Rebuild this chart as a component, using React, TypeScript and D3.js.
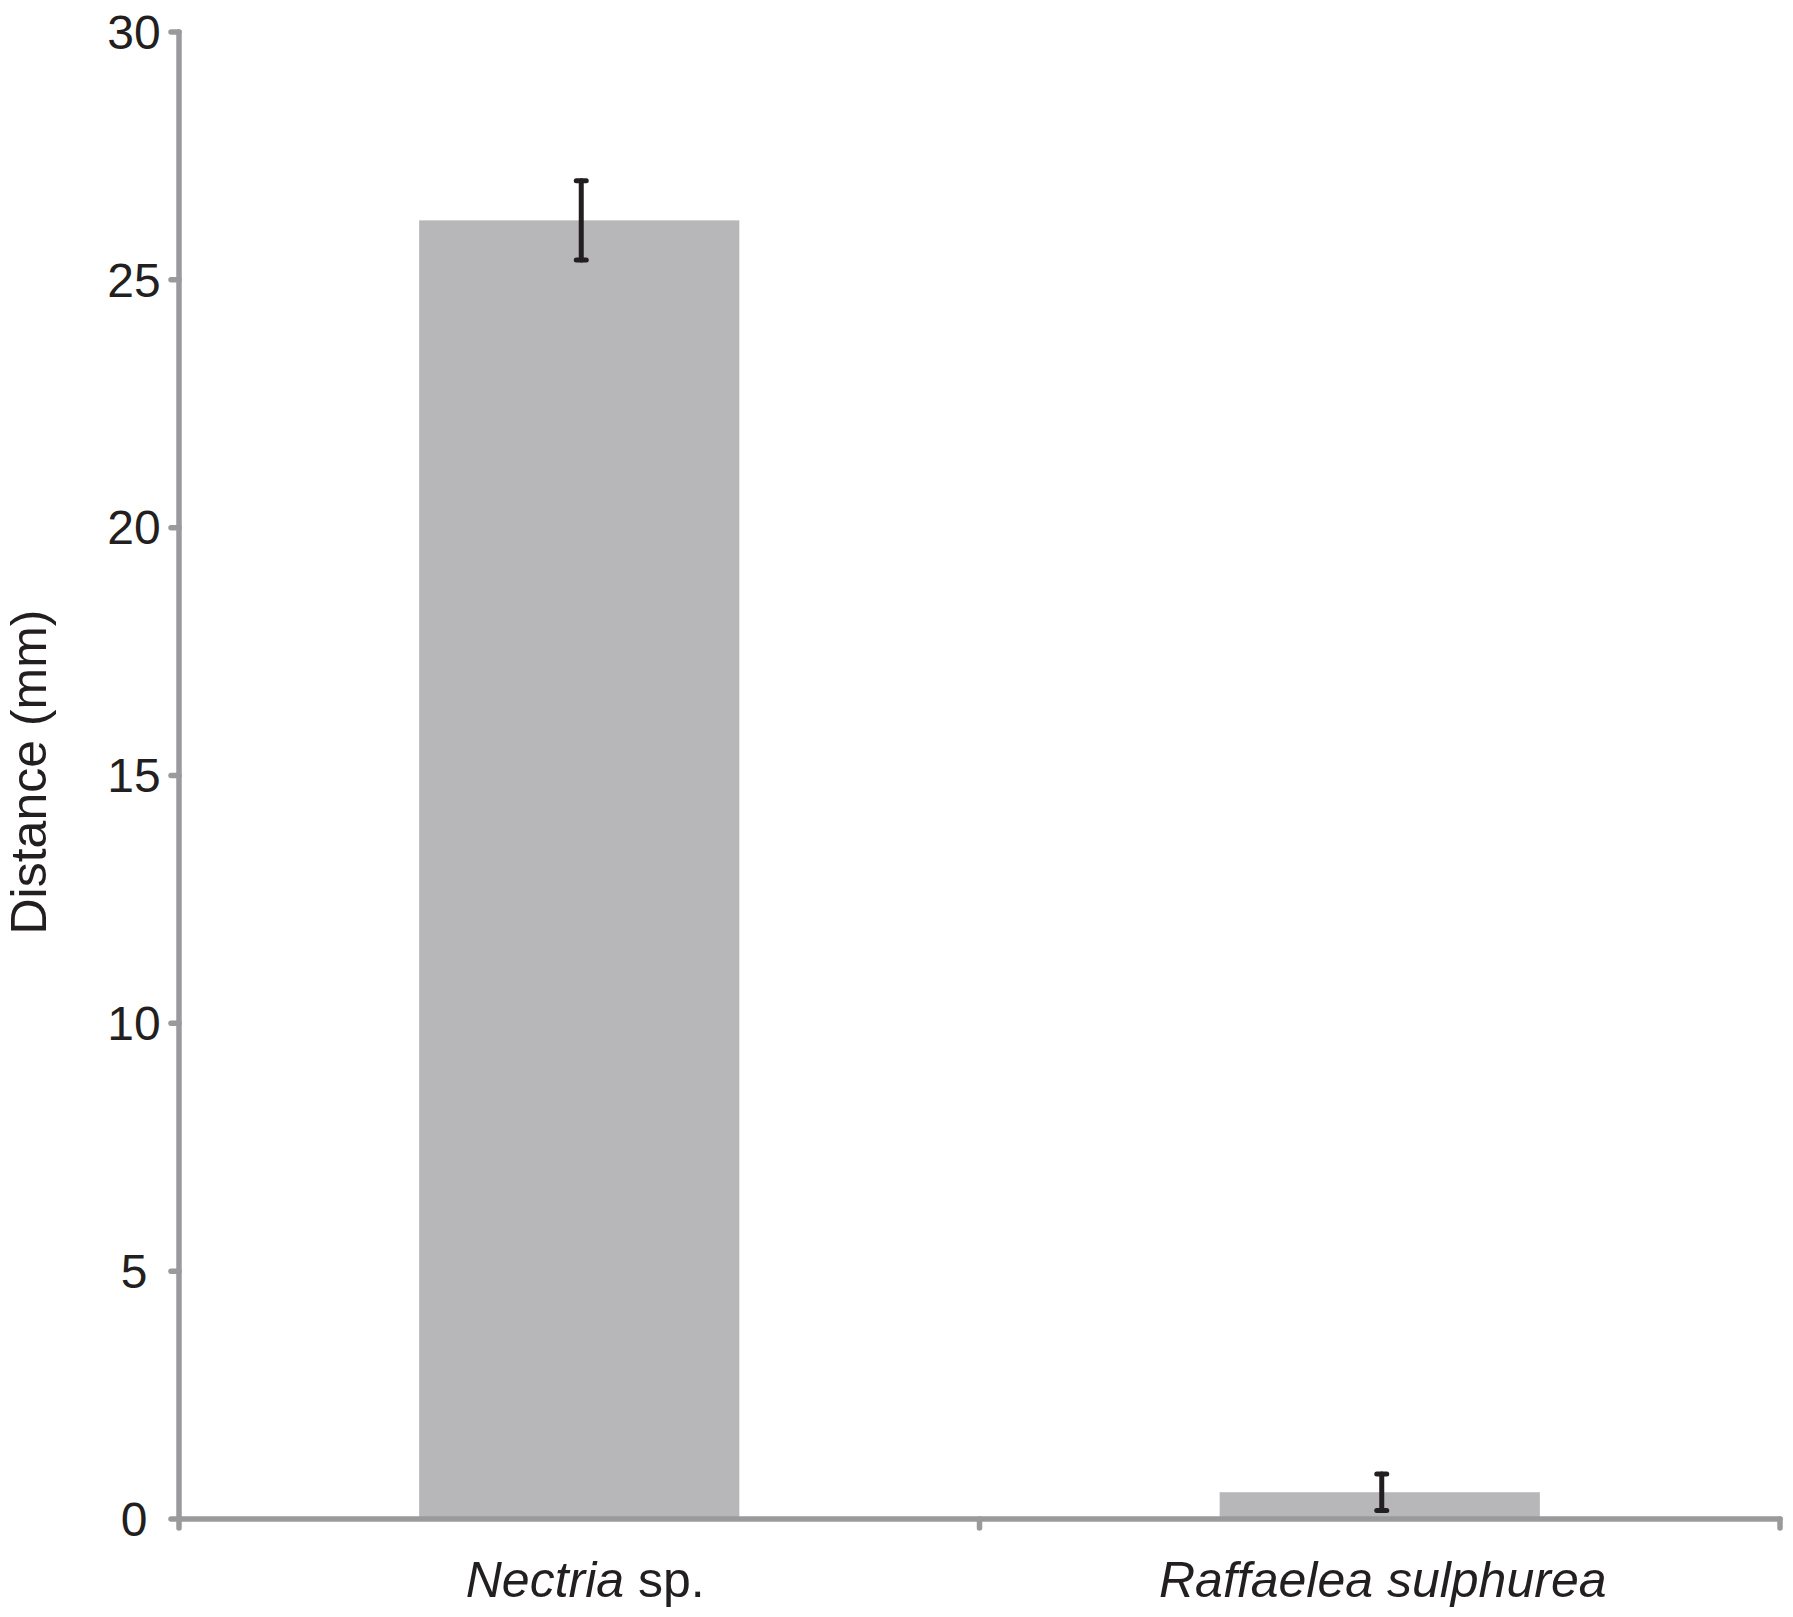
import React, { useEffect, useRef } from 'react';
import * as d3 from 'd3';

// chart data
const categories = ['Nectria', 'Raffaelea sulphurea'];
const meanDistance = [26.2, 0.54];
const errDistance = [0.8, 0.37];
const yTicks = [0, 5, 10, 15, 20, 25, 30];

const W = 1793;
const H = 1617;

const App = () => {
  const svgRef = useRef<SVGSVGElement>(null);

  useEffect(() => {
    const svg = d3.select(svgRef.current);
    svg.selectAll('*').remove();

    const left = 179;
    const right = 1780;
    const top = 32;
    const bottom = 1519;
    const axisColor = '#9a9a9c';
    const textColor = '#231f20';
    const font = '"Liberation Sans", Arial, Helvetica, sans-serif';

    const xScale = d3.scaleBand<string>()
      .domain(categories)
      .range([left, right])
      .padding(0);

    const yScale = d3.scaleLinear()
      .domain([0, 30])
      .range([bottom, top]);

    const barW = xScale.bandwidth() * 0.4;
    const data = categories.map((c, i) => ({ c, v: meanDistance[i], e: errDistance[i] }));

    // bars
    svg.append('g')
      .selectAll('rect')
      .data(data)
      .enter()
      .append('rect')
      .attr('x', d => xScale(d.c)! + xScale.bandwidth() / 2 - barW / 2)
      .attr('y', d => yScale(d.v))
      .attr('width', barW)
      .attr('height', d => bottom - yScale(d.v))
      .attr('fill', '#b7b7ba');

    // axes
    const axes = svg.append('g')
      .attr('stroke', axisColor)
      .attr('stroke-width', 5.5)
      .attr('stroke-linecap', 'round');

    axes.append('line')
      .attr('x1', left).attr('x2', left)
      .attr('y1', top).attr('y2', bottom + 9);

    axes.append('line')
      .attr('x1', left).attr('x2', right)
      .attr('y1', bottom).attr('y2', bottom);

    axes.selectAll('.ytick')
      .data(yTicks)
      .enter()
      .append('line')
      .attr('x1', left - 8).attr('x2', left)
      .attr('y1', d => yScale(d)).attr('y2', d => yScale(d));

    // category boundary ticks
    axes.selectAll('.xtick')
      .data(categories)
      .enter()
      .append('line')
      .attr('x1', d => xScale(d)! + xScale.bandwidth())
      .attr('x2', d => xScale(d)! + xScale.bandwidth())
      .attr('y1', bottom).attr('y2', bottom + 9);

    // error bars
    const err = svg.append('g')
      .attr('stroke', textColor)
      .attr('stroke-width', 5)
      .attr('stroke-linecap', 'round');

    data.forEach(d => {
      const cx = xScale(d.c)! + xScale.bandwidth() / 2 + 2;
      const y1 = yScale(d.v + d.e);
      const y2 = yScale(d.v - d.e);
      err.append('line').attr('x1', cx).attr('x2', cx).attr('y1', y1).attr('y2', y2);
      err.append('line').attr('x1', cx - 5).attr('x2', cx + 5).attr('y1', y1).attr('y2', y1);
      err.append('line').attr('x1', cx - 5).attr('x2', cx + 5).attr('y1', y2).attr('y2', y2);
    });

    // tick labels (centred, like the original)
    svg.append('g')
      .selectAll('text')
      .data(yTicks)
      .enter()
      .append('text')
      .attr('x', 134)
      .attr('y', d => yScale(d))
      .attr('dy', '0.35em')
      .attr('text-anchor', 'middle')
      .attr('font-family', font)
      .attr('font-size', 48)
      .attr('fill', textColor)
      .text(d => d);

    // category labels (italic genus names)
    const catLabels = svg.append('g');
    const nectria = catLabels.append('text')
      .attr('x', xScale(categories[0])! + xScale.bandwidth() / 2 + 6)
      .attr('y', 1597)
      .attr('text-anchor', 'middle')
      .attr('font-family', font)
      .attr('font-size', 50)
      .attr('fill', textColor);
    nectria.append('tspan').attr('font-style', 'italic').text('Nectria');
    nectria.append('tspan').text(' sp.');

    catLabels.append('text')
      .attr('x', xScale(categories[1])! + xScale.bandwidth() / 2 + 3)
      .attr('y', 1597)
      .attr('text-anchor', 'middle')
      .attr('font-family', font)
      .attr('font-size', 50)
      .attr('font-style', 'italic')
      .attr('fill', textColor)
      .text(categories[1]);

    // y axis title
    svg.append('text')
      .attr('transform', 'translate(46, 772) rotate(-90)')
      .attr('text-anchor', 'middle')
      .attr('font-family', font)
      .attr('font-size', 50)
      .attr('fill', textColor)
      .text('Distance (mm)');
  }, []);

  return (
    <svg
      ref={svgRef}
      width={W}
      height={H}
      style={{ position: 'absolute', left: 0, top: 0, background: '#fff' }}
    />
  );
};

export default App;
